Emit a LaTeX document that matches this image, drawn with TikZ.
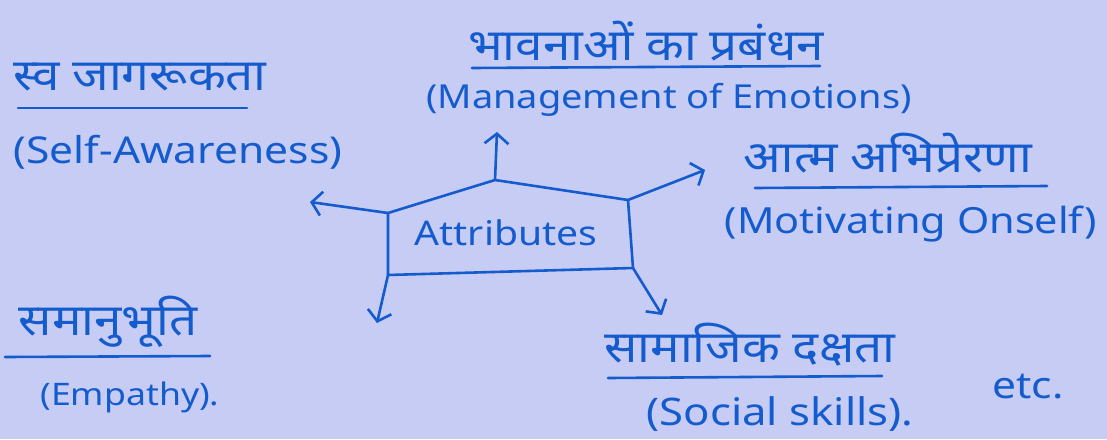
\documentclass[tikz,border=0pt]{standalone}
\usepackage{fontspec}
\setmainfont{Noto Sans}
\newfontfamily\hindifont[Script=Devanagari,FakeStretch=1.12]{Noto Sans}
\newfontfamily\latinfont[FakeStretch=1.15]{Noto Sans}
\usetikzlibrary{positioning,arrows.meta}

\definecolor{paper}{RGB}{199,204,244}
\definecolor{ink}{RGB}{20,92,206}

\tikzset{
  hin/.style={anchor=base,inner sep=0pt,text=ink,font=\hindifont\fontsize{44}{50}\selectfont},
  eng/.style={anchor=base,inner sep=0pt,text=ink,font=\latinfont\fontsize{#1}{40}\selectfont},
  eng/.default=34,
  pen/.style={draw=ink,line width=2.6pt,line cap=round,line join=round},
  arr/.style={pen,-{Straight Barb[length=10pt,width=24pt]}},
}

\begin{document}
\begin{tikzpicture}[x=1pt,y=-1pt]
\useasboundingbox (0,0) rectangle (1107,439);
\fill[paper] (0,0) rectangle (1107,439);

% centre box
\coordinate (peak) at (495,180);
\coordinate (tl) at (388,213);
\coordinate (tr) at (628,200);
\coordinate (br) at (633,268);
\coordinate (bl) at (388,275);
\draw[pen] (tl) -- (peak) -- (tr) -- (br) -- (bl) -- cycle;
\node[eng] (attr) at (506,245) {Attributes};

% arrow ends
\coordinate (up) at (497,132);
\coordinate (left) at (310,202);
\coordinate (right) at (705,170);
\coordinate (downl) at (377,323);
\coordinate (downr) at (662,315);

\draw[arr] (peak) -- (up);
\draw[arr] (tl) -- (left);
\draw[arr] (tr) -- (right);
\draw[arr] (bl) -- (downl);
\draw[arr] (br) -- (downr);

% labels
\node[hin] (selfhi) at (140,90) {स्व जागरूकता};
\node[eng=37] (selfen) at (178,163) {(Self-Awareness)};
\draw[pen] (18,108) -- (247,108);

\node[hin] (emohi) at (646,60) {भावनाओं का प्रबंधन};
\node[eng=33] (emoen) at (669,108) {(Management of Emotions)};
\draw[pen] (472,68) -- (820,66);

\node[hin] (mothi) at (888,172) {आत्म अभिप्रेरणा};
\node[eng=36] (moten) at (911,233) {(Motivating Onself)};
\draw[pen] (755,188) -- (1047,186);

\node[hin] (emphi) at (108,335) {समानुभूति};
\node[eng=31] (empen) at (130,405) {(Empathy).};
\draw[pen] (5,357) -- (210,356);

\node[hin] (sochi) at (750,362) {सामाजिक दक्षता};
\node[eng=38] (socen) at (780,425) {(Social skills).};
\draw[pen] (608,378) -- (882,376);

\node[eng=37] (etc) at (1028,398) {etc.};
\end{tikzpicture}
\end{document}
